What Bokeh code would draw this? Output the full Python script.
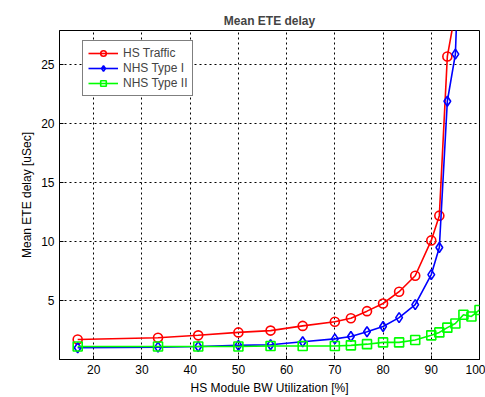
from bokeh.plotting import figure
from bokeh.models import Range1d, FixedTicker, Legend, LegendItem
from bokeh.embed import file_html
from bokeh.resources import INLINE

# Data
util = [16.67, 33.33, 41.67, 50, 56.67, 63.33, 70, 73.33, 76.67, 80,
        83.33, 86.67, 90, 91.67, 93.33, 95, 96.67, 98.33, 100]
hs_traffic = [1.7, 1.85, 2.05, 2.3, 2.45, 2.85, 3.2, 3.5, 4.1, 4.75,
              5.75, 7.1, 10.1, 12.2, 25.7, 29.5]
nhs_type1 = [1.0, 1.05, 1.1, 1.2, 1.25, 1.5, 1.75, 1.95, 2.35, 2.8,
             3.55, 4.65, 7.2, 9.5, 21.9, 25.9, 45.0]
nhs_type2 = [1.1, 1.1, 1.1, 1.1, 1.15, 1.15, 1.15, 1.2, 1.3, 1.45,
             1.45, 1.65, 2.05, 2.3, 2.7, 3.05, 3.8, 3.65, 4.2]

x_ticks = [20, 30, 40, 50, 60, 70, 80, 90, 100]
y_ticks = [5, 10, 15, 20, 25]

FONT = "Liberation Sans"

p = figure(width=485, height=397, output_backend="svg", toolbar_location=None,
           x_range=Range1d(12.9, 100), y_range=Range1d(0, 27.9),
           min_border_left=59, min_border_right=6, min_border_top=30,
           min_border_bottom=36)
p.title.text = "Mean ETE delay"
p.title.align = "center"
p.title.text_font = FONT
p.title.text_font_size = "12px"
p.title.text_font_style = "bold"
p.title.offset = 0
p.title.standoff = 6

p.background_fill_color = "white"
p.border_fill_color = "white"
p.outline_line_color = "black"
p.outline_line_width = 1

for ax, ticks in ((p.xaxis[0], x_ticks), (p.yaxis[0], y_ticks)):
    ax.ticker = FixedTicker(ticks=ticks)
    ax.major_tick_in = 4
    ax.major_tick_out = 0
    ax.minor_tick_in = 0
    ax.minor_tick_out = 0
    ax.axis_line_color = "black"
    ax.major_tick_line_color = "black"
    ax.major_label_text_font = FONT
    ax.major_label_text_font_size = "12px"
    ax.major_label_text_color = "black"
    ax.axis_label_text_font = FONT
    ax.axis_label_text_font_size = "12px"
    ax.axis_label_text_font_style = "normal"
    ax.axis_label_text_color = "black"

p.xaxis.axis_label = "HS Module BW Utilization [%]"
p.yaxis.axis_label = "Mean ETE delay [uSec]"
p.xaxis.axis_label_standoff = 4
p.yaxis.axis_label_standoff = 4

p.xgrid.ticker = FixedTicker(ticks=x_ticks)
p.ygrid.ticker = FixedTicker(ticks=y_ticks)
for g in (p.xgrid[0], p.ygrid[0]):
    g.grid_line_color = "black"
    g.grid_line_dash = "2 3"
    g.grid_line_width = 1

series = [
    ("HS Traffic", hs_traffic, "red", "circle", 9),
    ("NHS Type I", nhs_type1, "blue", "diamond", 10),
    ("NHS Type II", nhs_type2, "lime", "square", 9),
]
items = []
for name, ys, color, marker, size in series:
    xs = util[:len(ys)]
    r1 = p.line(xs, ys, line_color=color, line_width=1.6)
    r2 = p.scatter(xs, ys, marker=marker, size=size, line_color=color,
                   fill_color=None, line_width=1.6)
    items.append(LegendItem(label=name, renderers=[r1, r2]))

legend = Legend(items=items, location=(23, 263))
legend.label_text_font = FONT
legend.label_text_font_size = "12px"
legend.label_height = 14
legend.glyph_height = 14
legend.glyph_width = 30
legend.spacing = 1
legend.padding = 5
legend.margin = 0
legend.border_line_color = "black"
legend.border_line_width = 1
legend.background_fill_color = "white"
legend.background_fill_alpha = 1
p.add_layout(legend, "center")

open("out.html", "w").write(file_html(p, INLINE))
